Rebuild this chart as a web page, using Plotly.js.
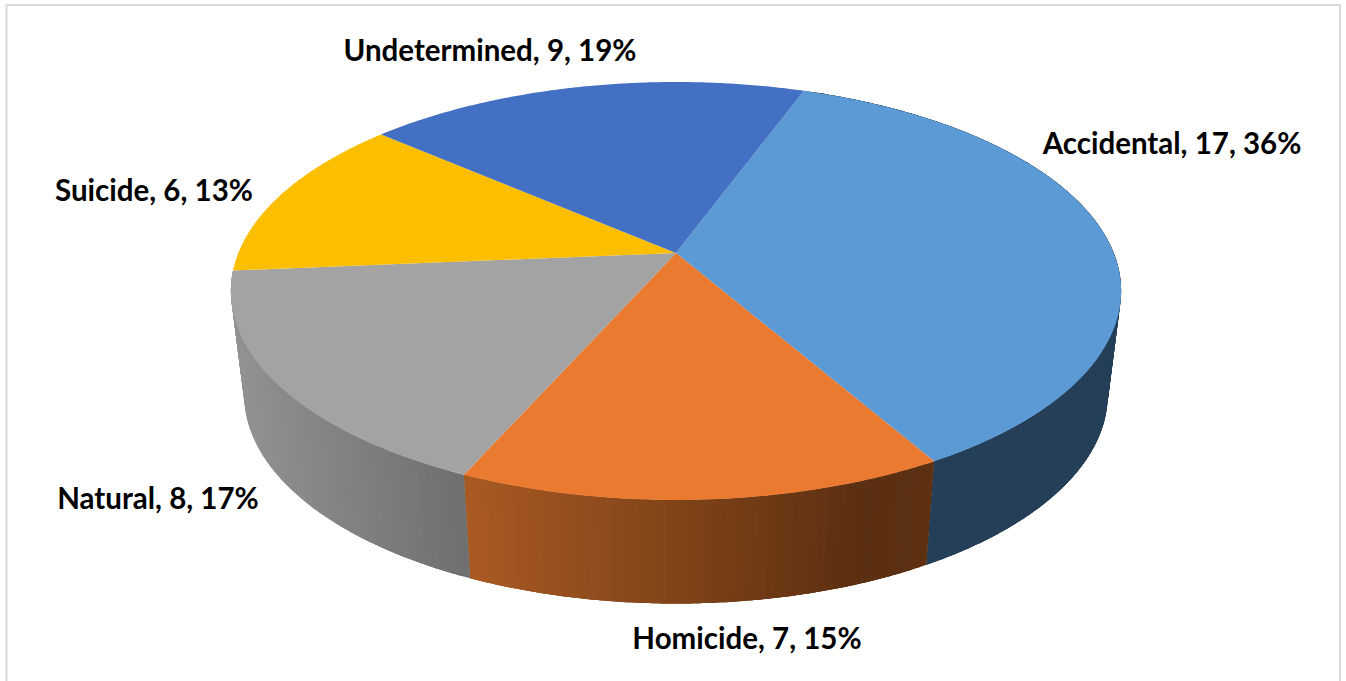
<!DOCTYPE html>
<html>
<head>
<meta charset="utf-8">
<script src="https://cdn.plot.ly/plotly-3.0.1.min.js"></script>
<style>html,body{margin:0;padding:0;background:#fff}#chart{width:1346px;height:681px}</style>
</head>
<body>
<div id="chart"></div>
<script>
// Manner of death counts
const categories = ["Accidental", "Homicide", "Natural", "Suicide", "Undetermined"];
const counts = [17, 7, 8, 6, 9];

// Face and rim styling, one entry per category
const topColors = ["#5b9ad5", "#e97a30", "#a3a3a3", "#fcbf00", "#4370c2"];
// Rim gradients run left to right as [fraction, r, g, b]; back slices have no visible rim
const rimStops = [
  [[0, 36, 63, 87], [1, 36, 63, 87]],
  [[0, 170, 90, 34], [0.85, 91, 47, 17], [1, 93, 48, 18]],
  [[0, 146, 146, 146], [1, 111, 111, 111]],
  null,
  null
];

const labelX = [1172, 747, 158, 154, 490];
const labelY = [147, 642, 502, 194, 54];

// Tilted disc projection: clockwise angle from the back of the disc, in pixels on the axes
const startAngle = 20;
const disc = {cx: 676, a: 437.7, b: 202.1, k: 0.1818, topY: 253, rimY: 356.5, rimScale: 0.97};

function project(deg, isRim) {
  const r = deg * Math.PI / 180;
  const p = Math.sin(r), q = -Math.cos(r);
  const d = 1 - disc.k * q;
  return {
    x: disc.cx + (isRim ? disc.rimScale : 1) * disc.a * p / d,
    y: (isRim ? disc.rimY : disc.topY) + disc.b * q / d
  };
}

function rimColor(stops, t) {
  let i = 0;
  while (i < stops.length - 2 && t > stops[i + 1][0]) i++;
  const s0 = stops[i], s1 = stops[i + 1];
  const f = Math.min(1, Math.max(0, (t - s0[0]) / (s1[0] - s0[0])));
  const c = [1, 2, 3].map(j => Math.round(s0[j] + (s1[j] - s0[j]) * f));
  return `rgb(${c[0]},${c[1]},${c[2]})`;
}

// Closed outline of the rim between two angles, sampled finely along both arcs
function rimBand(a0, a1) {
  const n = Math.max(2, Math.ceil((a1 - a0) * 2));
  const up = [], down = [];
  for (let s = 0; s <= n; s++) {
    const ang = a0 + (a1 - a0) * s / n;
    up.push(project(ang, false));
    down.unshift(project(ang, true));
  }
  const pts = up.concat(down, [up[0]]);
  return {x: pts.map(o => o.x), y: pts.map(o => o.y)};
}

const total = counts.reduce((s, v) => s + v, 0);
const rimTraces = [];
const faceTraces = [];
let angle = startAngle;

categories.forEach((name, i) => {
  const from = angle;
  const to = angle + counts[i] / total * 360;
  angle = to;

  // Rim: overlapping bands painted in turn so no seams appear between shades,
  // and whose union gives the straight silhouette at the disc's sides
  const stops = rimStops[i];
  if (stops) {
    const bands = Math.ceil(to - from);
    const step = (to - from) / bands;
    const ends = [project(from, true).x, project(to, true).x];
    const xMin = Math.min(...ends), xMax = Math.max(...ends);
    for (let s = 0; s < bands; s++) {
      const a0 = from + step * s;
      const a1 = Math.min(to, a0 + step * 3);
      const mid = project(a0 + step / 2, true).x;
      const col = rimColor(stops, (mid - xMin) / (xMax - xMin || 1));
      const band = rimBand(a0, a1);
      rimTraces.push({
        type: "scatter", mode: "none", fill: "toself", fillcolor: col,
        x: band.x, y: band.y,
        hoverinfo: "skip", showlegend: false
      });
    }
  }

  // Top face of the slice
  const fx = [disc.cx], fy = [disc.topY];
  const n = Math.ceil((to - from) * 2);
  for (let s = 0; s <= n; s++) {
    const pt = project(from + (to - from) * s / n, false);
    fx.push(pt.x); fy.push(pt.y);
  }
  fx.push(fx[0]); fy.push(fy[0]);
  faceTraces.push({
    type: "scatter", mode: "none", fill: "toself", fillcolor: topColors[i],
    x: fx, y: fy,
    name: name, hoverinfo: "name", showlegend: false
  });
});

const labelTrace = {
  type: "scatter", mode: "text",
  x: labelX, y: labelY,
  text: categories.map((c, i) => `${c}, ${counts[i]}, ${Math.round(counts[i] / total * 100)}%`),
  textposition: "middle center",
  textfont: {family: "Lato, 'Open Sans', sans-serif", size: 29.5, color: "#000", weight: 700},
  hoverinfo: "skip", showlegend: false
};

const layout = {
  width: 1346, height: 681,
  margin: {l: 0, r: 0, t: 0, b: 0},
  paper_bgcolor: "#fff", plot_bgcolor: "#fff",
  showlegend: false,
  xaxis: {range: [0, 1346], visible: false, fixedrange: true},
  yaxis: {range: [681, 0], visible: false, fixedrange: true},
  shapes: [{
    type: "rect", xref: "x", yref: "y",
    x0: 6.5, x1: 1340, y0: 5, y1: 700,
    line: {color: "#d9d9d9", width: 2}, fillcolor: "rgba(0,0,0,0)", layer: "below"
  }]
};

Plotly.newPlot("chart", rimTraces.concat(faceTraces, [labelTrace]), layout, {displayModeBar: false, responsive: false});
</script>
</body>
</html>
